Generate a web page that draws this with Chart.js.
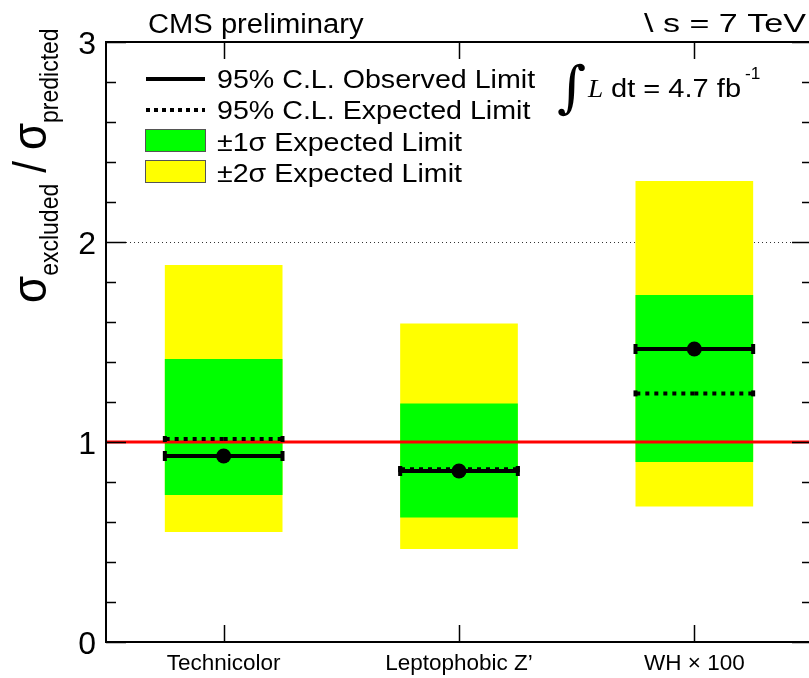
<!DOCTYPE html>
<html>
<head>
<meta charset="utf-8">
<script src="https://cdn.jsdelivr.net/npm/chart.js@4.4.1/dist/chart.umd.min.js"></script>
<style>
  html, body { margin: 0; padding: 0; background: #fff; overflow: hidden; }
  #wrap { position: relative; width: 820px; height: 678px; }
</style>
</head>
<body>
<div id="wrap"><canvas id="c"></canvas></div>
<script>
// Limits on sigma_excluded / sigma_predicted for each model
const categories = ['Technicolor', 'Leptophobic Z\u2019', 'WH \u00d7 100'];
const observed   = [0.930, 0.855, 1.465];
const expected   = [1.015, 0.864, 1.243];
const band1Low   = [0.735, 0.622, 0.900];
const band1High  = [1.415, 1.193, 1.735];
const band2Low   = [0.550, 0.465, 0.677];
const band2High  = [1.885, 1.593, 2.305];
const yTickValues = [0, 1, 2, 3];
const minorStep = 0.2;
const referenceRatio = 1;

const SANS = "'Liberation Sans', Arial, Helvetica, sans-serif";
const GREEN = '#00ff00';
const YELLOW = '#ffff00';

function stretchText(ctx, str, x, y, px, opts = {}) {
  ctx.save();
  ctx.font = `${opts.style || ''} ${px}px ${opts.family || SANS}`;
  let sx = opts.sx ?? 1.08;
  if (opts.fitWidth) sx = opts.fitWidth / ctx.measureText(str).width;
  ctx.fillStyle = '#000';
  ctx.textAlign = opts.align || 'left';
  ctx.textBaseline = 'alphabetic';
  ctx.translate(x, y);
  ctx.scale(sx, 1);
  ctx.fillText(str, 0, 0);
  ctx.restore();
}

// Frame around the plot with inward tick marks on all four sides
const framePlugin = {
  id: 'frame',
  afterDraw(chart) {
    const { ctx, chartArea: a, scales: { x, y } } = chart;
    ctx.save();
    ctx.strokeStyle = '#000';
    ctx.lineWidth = 2;
    ctx.strokeRect(a.left, a.top, a.right - a.left, a.bottom - a.top);
    ctx.lineWidth = 1.5;
    ctx.beginPath();
    const nMinor = Math.round((y.max - y.min) / minorStep);
    for (let k = 0; k <= nMinor; k++) {
      const v = y.min + k * minorStep;
      const isMajor = Math.abs(v - Math.round(v)) < 1e-6;
      const len = isMajor ? 20 : 10;
      const py = Math.round(y.getPixelForValue(v)) + 0.5;
      ctx.moveTo(a.left, py); ctx.lineTo(a.left + len, py);
      ctx.moveTo(a.right, py); ctx.lineTo(a.right - len, py);
    }
    categories.forEach((c, i) => {
      const px = Math.round(x.getPixelForValue(i)) + 0.5;
      ctx.moveTo(px, a.bottom); ctx.lineTo(px, a.bottom - 17);
      ctx.moveTo(px, a.top); ctx.lineTo(px, a.top + 17);
    });
    ctx.stroke();
    ctx.restore();
  }
};

// Reference line plus observed / expected limit markers on top of the bands
const limitsPlugin = {
  id: 'limits',
  afterDatasetsDraw(chart) {
    const { ctx, chartArea: a, scales: { x, y } } = chart;
    ctx.save();
    // sigma_excluded = sigma_predicted
    const ry = y.getPixelForValue(referenceRatio);
    ctx.strokeStyle = '#ff0000';
    ctx.lineWidth = 3;
    ctx.beginPath(); ctx.moveTo(a.left, ry); ctx.lineTo(a.right, ry); ctx.stroke();

    const meta = chart.getDatasetMeta(0);
    categories.forEach((c, i) => {
      const bar = meta.data[i];
      const cx = bar.x;
      const half = bar.width / 2;
      const x0 = cx - half, x1 = cx + half;

      // expected limit: dotted, dashes running out from the centre
      const ey = y.getPixelForValue(expected[i]);
      ctx.strokeStyle = '#000';
      ctx.lineWidth = 4;
      ctx.setLineDash([4, 5]);
      ctx.beginPath(); ctx.moveTo(cx, ey); ctx.lineTo(x1, ey); ctx.stroke();
      ctx.beginPath(); ctx.moveTo(cx, ey); ctx.lineTo(x0, ey); ctx.stroke();
      ctx.setLineDash([]);
      ctx.fillStyle = '#000';
      ctx.fillRect(x0 - 2, ey - 3, 4, 6);
      ctx.fillRect(x1 - 2, ey - 3, 4, 6);

      // observed limit: solid with end caps and a marker
      const oy = y.getPixelForValue(observed[i]);
      ctx.lineWidth = 4;
      ctx.beginPath(); ctx.moveTo(x0, oy); ctx.lineTo(x1, oy); ctx.stroke();
      ctx.fillRect(x0 - 2, oy - 5, 4, 10);
      ctx.fillRect(x1 - 2, oy - 5, 4, 10);
      ctx.beginPath(); ctx.arc(cx, oy, 7.5, 0, Math.PI * 2); ctx.fill();
    });
    ctx.restore();
  }
};

// Header texts, legend, luminosity label and the y-axis title
const labelsPlugin = {
  id: 'labels',
  afterDraw(chart) {
    const { ctx } = chart;
    stretchText(ctx, 'CMS preliminary', 148, 33, 27);
    stretchText(ctx, '\\ s = 7 TeV', 644, 32, 25, { fitWidth: 162 });

    // legend
    ctx.save();
    ctx.strokeStyle = '#000';
    ctx.lineWidth = 4;
    ctx.beginPath(); ctx.moveTo(146, 79); ctx.lineTo(205, 79); ctx.stroke();
    ctx.setLineDash([4, 4]);
    ctx.beginPath(); ctx.moveTo(146, 110); ctx.lineTo(205, 110); ctx.stroke();
    ctx.setLineDash([]);
    ctx.lineWidth = 1;
    ctx.strokeStyle = '#555';
    ctx.fillStyle = GREEN;
    ctx.fillRect(145.5, 129.5, 60, 22); ctx.strokeRect(145.5, 129.5, 60, 22);
    ctx.fillStyle = YELLOW;
    ctx.fillRect(145.5, 160.5, 60, 22); ctx.strokeRect(145.5, 160.5, 60, 22);
    ctx.restore();
    stretchText(ctx, '95% C.L. Observed Limit', 217, 88, 26.5);
    stretchText(ctx, '95% C.L. Expected Limit', 217, 119, 26.5);
    stretchText(ctx, '\u00b11\u03c3 Expected Limit', 217, 151, 26.5);
    stretchText(ctx, '\u00b12\u03c3 Expected Limit', 217, 182, 26.5);

    // integrated luminosity
    stretchText(ctx, '\u222b', 557, 106, 56, { family: "'DejaVu Serif', serif", sx: 1 });
    stretchText(ctx, 'L', 588, 97, 26, { family: "'Liberation Serif', 'Times New Roman', serif", style: 'italic', sx: 1.05 });
    stretchText(ctx, 'dt = 4.7 fb', 611, 97, 25.5, { sx: 1.14 });
    stretchText(ctx, '-1', 745, 79, 16);

    // y-axis title, read bottom to top
    ctx.save();
    ctx.translate(46, 303);
    ctx.rotate(-Math.PI / 2);
    ctx.scale(1, 1.1);
    ctx.fillStyle = '#000';
    ctx.textBaseline = 'alphabetic';
    ctx.textAlign = 'left';
    let pos = 0;
    const put = (s, px, dy) => {
      ctx.font = `${px}px ${SANS}`;
      ctx.fillText(s, pos, dy);
      pos += ctx.measureText(s).width;
    };
    put('\u03c3', 44, 0);
    put('excluded', 23, 11);
    pos += 11;
    put('/', 42, 0);
    pos += 11;
    put('\u03c3', 44, 0);
    put('predicted', 23, 11);
    ctx.restore();
  }
};

const barDefaults = { grouped: false, barPercentage: 0.5, categoryPercentage: 1, borderWidth: 0 };

new Chart(document.getElementById('c'), {
  type: 'bar',
  data: {
    labels: categories,
    datasets: [
      { label: '\u00b11\u03c3 Expected Limit', data: categories.map((c, i) => [band1Low[i], band1High[i]]),
        backgroundColor: GREEN, order: 1, ...barDefaults },
      { label: '\u00b12\u03c3 Expected Limit', data: categories.map((c, i) => [band2Low[i], band2High[i]]),
        backgroundColor: YELLOW, order: 2, ...barDefaults }
    ]
  },
  options: {
    responsive: true,
    maintainAspectRatio: false,
    animation: false,
    devicePixelRatio: 1,
    layout: { padding: { left: 0, top: 42, right: 8, bottom: 0 } },
    plugins: { legend: { display: false }, tooltip: { enabled: false } },
    scales: {
      x: {
        type: 'category',
        offset: true,
        grid: { display: false, drawTicks: false },
        border: { display: false },
        ticks: { color: '#000', font: { family: SANS, size: 22.5 }, padding: 8, maxRotation: 0 },
        afterFit(s) { s.height = 36; }
      },
      y: {
        min: 0,
        max: 3,
        afterBuildTicks(s) { s.ticks = yTickValues.map(v => ({ value: v })); },
        ticks: { color: '#000', font: { family: SANS, size: 32 }, padding: 10, labelOffset: 3 },
        grid: {
          drawTicks: false,
          lineWidth: 1,
          color: c => (c.tick && c.tick.value === 2) ? '#333' : 'rgba(0,0,0,0)'
        },
        border: { display: false, dash: [1, 3] },
        afterFit(s) { s.width = 106; }
      }
    }
  },
  plugins: [framePlugin, limitsPlugin, labelsPlugin]
});
</script>
</body>
</html>
